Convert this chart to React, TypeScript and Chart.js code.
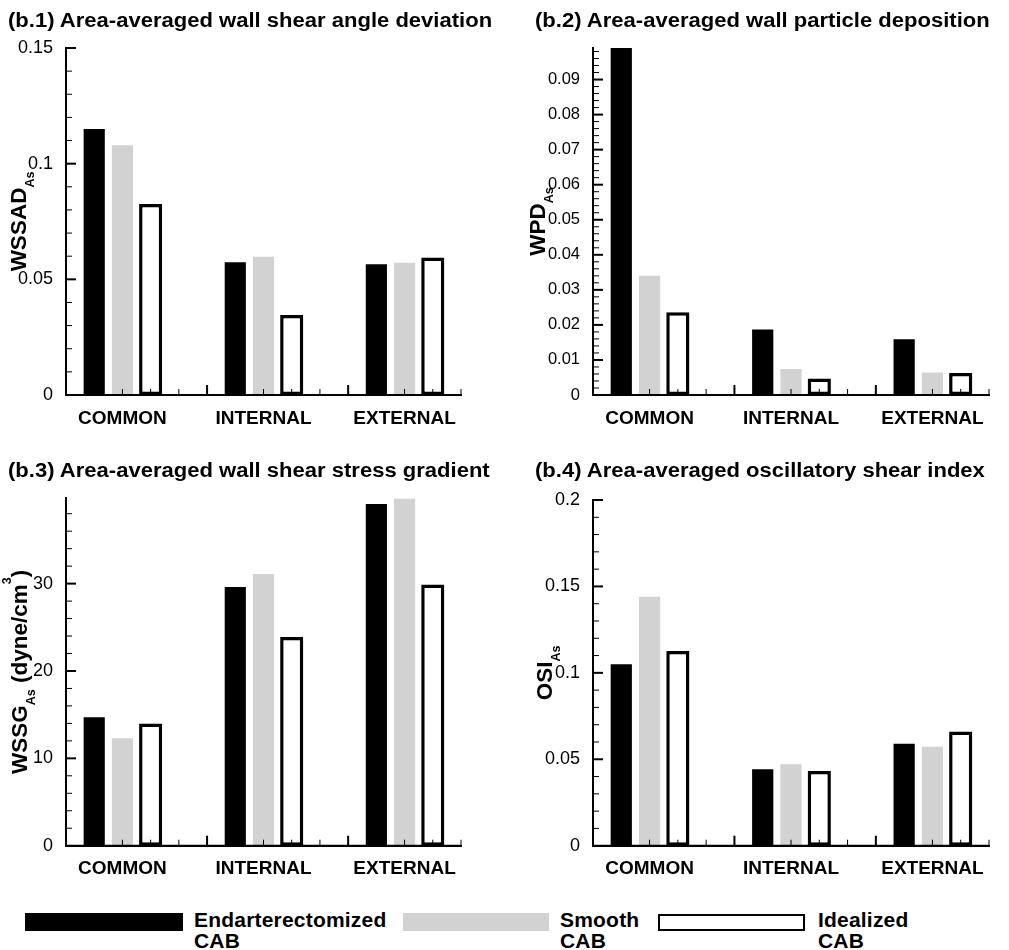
import React, { useEffect, useRef } from 'react';
import { Chart, registerables } from 'chart.js';

Chart.register(...registerables);

// ---------- data ----------
const categories = ['COMMON', 'INTERNAL', 'EXTERNAL'];
const seriesLabels = ['Endarterectomized', 'Smooth', 'Idealized'];
const seriesSecondLine = ['CAB', 'CAB', 'CAB'];

// (b.1) wall shear angle deviation
const wssadEndarterectomized = [0.115, 0.0574, 0.0565];
const wssadSmooth = [0.108, 0.0598, 0.0572];
const wssadIdealized = [0.0826, 0.0346, 0.0594];
const wssadTicks = [0, 0.05, 0.1, 0.15];

// (b.2) wall particle deposition
const wpdEndarterectomized = [0.099, 0.0187, 0.0159];
const wpdSmooth = [0.034, 0.0074, 0.0064];
const wpdIdealized = [0.0236, 0.0047, 0.0063];
const wpdTicks = [0, 0.01, 0.02, 0.03, 0.04, 0.05, 0.06, 0.07, 0.08, 0.09];

// (b.3) wall shear stress gradient
const wssgEndarterectomized = [14.7, 29.6, 39.1];
const wssgSmooth = [12.3, 31.1, 39.7];
const wssgIdealized = [14.0, 23.9, 29.9];
const wssgTicks = [0, 10, 20, 30];

// (b.4) oscillatory shear index
const osiEndarterectomized = [0.105, 0.0442, 0.059];
const osiSmooth = [0.144, 0.0471, 0.0573];
const osiIdealized = [0.1126, 0.0432, 0.066];
const osiTicks = [0, 0.05, 0.1, 0.15, 0.2];

// ---------- styles ----------
const FONT = '"Liberation Sans", Arial, Helvetica, sans-serif';
const seriesFill = ['#000000', '#d2d2d2', '#ffffff'];
const seriesBorderWidth = [0, 0, 3.5];
const seriesBarPct = [0.75, 0.75, 0.82];
const X_MIN = -0.4;
const X_MAX = 2.4;
const X_MINOR_STEP = 0.2;
const X_MAJOR = [0.6, 1.6];

type Part = { text: string; kind: 'main' | 'sub' | 'sup' };

type PanelSpec = {
  title: string;
  titleLeft: number;
  titleTop: number;
  left: number;
  top: number;
  width: number;
  height: number;
  area: { l: number; r: number; t: number; b: number };
  yMax: number;
  yTicks: number[];
  yMinorStep: number;
  yTickFont: number;
  yTitle: Part[];
  yTitleX: number;
  series: number[][];
};

const panels: PanelSpec[] = [
  {
    title: '(b.1) Area-averaged wall shear angle deviation',
    titleLeft: 8,
    titleTop: 9,
    left: 0,
    top: 0,
    width: 500,
    height: 440,
    area: { l: 66, r: 461, t: 48, b: 395 },
    yMax: 0.15,
    yTicks: wssadTicks,
    yMinorStep: 0.01,
    yTickFont: 18,
    yTitle: [
      { text: 'WSSAD', kind: 'main' },
      { text: 'As', kind: 'sub' },
    ],
    yTitleX: 26,
    series: [wssadEndarterectomized, wssadSmooth, wssadIdealized],
  },
  {
    title: '(b.2) Area-averaged wall particle deposition',
    titleLeft: 535,
    titleTop: 9,
    left: 500,
    top: 0,
    width: 509,
    height: 440,
    area: { l: 93, r: 489, t: 48, b: 395 },
    yMax: 0.099,
    yTicks: wpdTicks,
    yMinorStep: 0.002,
    yTickFont: 16.5,
    yTitle: [
      { text: 'WPD', kind: 'main' },
      { text: 'As', kind: 'sub' },
    ],
    yTitleX: 45,
    series: [wpdEndarterectomized, wpdSmooth, wpdIdealized],
  },
  {
    title: '(b.3) Area-averaged wall shear stress gradient',
    titleLeft: 8,
    titleTop: 459,
    left: 0,
    top: 440,
    width: 500,
    height: 440,
    area: { l: 66, r: 461, t: 58, b: 405.7 },
    yMax: 39.8,
    yTicks: wssgTicks,
    yMinorStep: 2,
    yTickFont: 18,
    yTitle: [
      { text: 'WSSG', kind: 'main' },
      { text: 'As', kind: 'sub' },
      { text: ' (dyne/cm', kind: 'main' },
      { text: '3', kind: 'sup' },
      { text: ')', kind: 'main' },
    ],
    yTitleX: 27,
    series: [wssgEndarterectomized, wssgSmooth, wssgIdealized],
  },
  {
    title: '(b.4) Area-averaged oscillatory shear index',
    titleLeft: 535,
    titleTop: 459,
    left: 500,
    top: 440,
    width: 509,
    height: 440,
    area: { l: 93, r: 489, t: 60, b: 405.7 },
    yMax: 0.2,
    yTicks: osiTicks,
    yMinorStep: 0.01,
    yTickFont: 18,
    yTitle: [
      { text: 'OSI', kind: 'main' },
      { text: 'As', kind: 'sub' },
    ],
    yTitleX: 52,
    series: [osiEndarterectomized, osiSmooth, osiIdealized],
  },
];

function fmt(v: number): string {
  return String(parseFloat(Number(v).toFixed(4)));
}

function Panel({ p }: { p: PanelSpec }) {
  const ref = useRef<HTMLCanvasElement | null>(null);

  useEffect(() => {
    const canvas = ref.current;
    if (!canvas) return;

    const axisPlugin = {
      id: 'inwardTicks',
      afterDatasetsDraw(chart: any) {
        const { ctx, chartArea: a, scales } = chart;
        const xs = scales.x;
        const ys = scales.y;
        ctx.save();
        ctx.strokeStyle = '#000';
        ctx.lineCap = 'butt';
        ctx.lineWidth = 2;
        ctx.beginPath();
        ctx.moveTo(a.left - 1, a.bottom);
        ctx.lineTo(a.right, a.bottom);
        ctx.moveTo(a.left, a.top);
        ctx.lineTo(a.left, a.bottom);
        ctx.stroke();
        const n = Math.floor(p.yMax / p.yMinorStep + 1e-6);
        for (let k = 1; k <= n; k++) {
          const v = k * p.yMinorStep;
          const major = p.yTicks.some((t) => Math.abs(t - v) < p.yMinorStep / 10);
          const py = ys.getPixelForValue(v);
          ctx.lineWidth = major ? 2 : 1;
          ctx.beginPath();
          ctx.moveTo(a.left, py);
          ctx.lineTo(a.left + (major ? 10 : 6), py);
          ctx.stroke();
        }
        const m = Math.round((X_MAX - X_MIN) / X_MINOR_STEP);
        for (let k = 1; k <= m; k++) {
          const v = X_MIN + k * X_MINOR_STEP;
          const major = X_MAJOR.some((t) => Math.abs(t - v) < X_MINOR_STEP / 10);
          const px = xs.getPixelForValue(v);
          ctx.lineWidth = major ? 2 : 1;
          ctx.beginPath();
          ctx.moveTo(px, a.bottom);
          ctx.lineTo(px, a.bottom - (major ? 10 : 6));
          ctx.stroke();
        }
        ctx.restore();
      },
    };

    const titlePlugin = {
      id: 'richYTitle',
      afterDraw(chart: any) {
        const { ctx, chartArea: a } = chart;
        const mainFont = `bold 22.5px ${FONT}`;
        const smallFont = `bold 12.5px ${FONT}`;
        ctx.save();
        const widths = p.yTitle.map((part) => {
          ctx.font = part.kind === 'main' ? mainFont : smallFont;
          return ctx.measureText(part.text).width;
        });
        const total = widths.reduce((s, w) => s + w, 0);
        ctx.translate(p.yTitleX, (a.top + a.bottom) / 2);
        ctx.rotate(-Math.PI / 2);
        ctx.fillStyle = '#000';
        ctx.textBaseline = 'alphabetic';
        ctx.textAlign = 'left';
        let cx = -total / 2;
        p.yTitle.forEach((part, i) => {
          ctx.font = part.kind === 'main' ? mainFont : smallFont;
          const dy = part.kind === 'sub' ? 8 : part.kind === 'sup' ? -16 : 0;
          ctx.fillText(part.text, cx, dy);
          cx += widths[i];
        });
        ctx.restore();
      },
    };

    const datasets = p.series.map((vals, si) => ({
      label: seriesLabels[si],
      data: vals.map((v, i) => ({ x: i, y: v })),
      backgroundColor: seriesFill[si],
      borderColor: '#000000',
      borderWidth: seriesBorderWidth[si],
      borderSkipped: false as const,
      barPercentage: seriesBarPct[si],
      categoryPercentage: 0.6,
    }));

    const chart = new Chart(canvas, {
      type: 'bar',
      data: { datasets },
      plugins: [axisPlugin, titlePlugin],
      options: {
        animation: false,
        responsive: false,
        devicePixelRatio: 1,
        layout: {
          padding: { left: 0, right: p.width - p.area.r, top: p.area.t, bottom: 0 },
        },
        plugins: {
          legend: { display: false },
          tooltip: { enabled: false },
          title: { display: false },
        },
        scales: {
          x: {
            type: 'linear',
            min: X_MIN,
            max: X_MAX,
            offset: false,
            grid: { display: false, offset: false },
            border: { display: true, color: '#000', width: 2 },
            afterBuildTicks: (s: any) => {
              s.ticks = categories.map((_, i) => ({ value: i }));
            },
            afterFit: (s: any) => {
              s.height = p.height - p.area.b;
            },
            ticks: {
              autoSkip: false,
              maxRotation: 0,
              minRotation: 0,
              padding: 4,
              color: '#000',
              font: { family: FONT, size: 19, weight: 'bold' },
              callback: (v: any) => categories[Math.round(Number(v))] ?? '',
            },
          },
          y: {
            type: 'linear',
            min: 0,
            max: p.yMax,
            grid: { display: false },
            border: { display: true, color: '#000', width: 2 },
            afterBuildTicks: (s: any) => {
              s.ticks = p.yTicks.map((v) => ({ value: v }));
            },
            afterFit: (s: any) => {
              s.width = p.area.l;
            },
            ticks: {
              padding: 5,
              color: '#000',
              font: { family: FONT, size: p.yTickFont },
              callback: (v: any) => fmt(Number(v)),
            },
          },
        },
      } as any,
    });

    return () => {
      chart.destroy();
    };
  }, [p]);

  return (
    <canvas
      ref={ref}
      width={p.width}
      height={p.height}
      style={{ position: 'absolute', left: p.left, top: p.top, width: p.width, height: p.height }}
    />
  );
}

const titleStyle: React.CSSProperties = {
  position: 'absolute',
  font: `bold 19.5px ${FONT}`,
  lineHeight: '22px',
  whiteSpace: 'nowrap',
  color: '#000',
  transform: 'scaleX(1.13)',
  transformOrigin: 'left center',
};

const legendTextStyle: React.CSSProperties = {
  position: 'absolute',
  font: `bold 21px ${FONT}`,
  lineHeight: '21px',
  letterSpacing: '0.2px',
  whiteSpace: 'nowrap',
  color: '#000',
};

const legendSwatches = [
  { left: 25, top: 913, width: 158, height: 18, textLeft: 194 },
  { left: 403, top: 913, width: 146, height: 18, textLeft: 560 },
  { left: 658, top: 914, width: 147, height: 17, textLeft: 818 },
];

export default function App() {
  return (
    <div
      style={{
        position: 'absolute',
        left: 0,
        top: 0,
        width: 1009,
        height: 950,
        background: '#fff',
        overflow: 'hidden',
      }}
    >
      {panels.map((p, i) => (
        <React.Fragment key={i}>
          <Panel p={p} />
          <div style={{ ...titleStyle, left: p.titleLeft, top: p.titleTop }}>{p.title}</div>
        </React.Fragment>
      ))}
      {legendSwatches.map((s, i) => (
        <React.Fragment key={'lg' + i}>
          <div
            style={{
              position: 'absolute',
              left: s.left,
              top: s.top,
              width: s.width,
              height: s.height,
              boxSizing: 'border-box',
              background: seriesFill[i],
              border: seriesBorderWidth[i] > 0 ? '2px solid #000' : 'none',
            }}
          />
          <div style={{ ...legendTextStyle, left: s.textLeft, top: 909 }}>
            {seriesLabels[i]}
            <br />
            {seriesSecondLine[i]}
          </div>
        </React.Fragment>
      ))}
    </div>
  );
}
